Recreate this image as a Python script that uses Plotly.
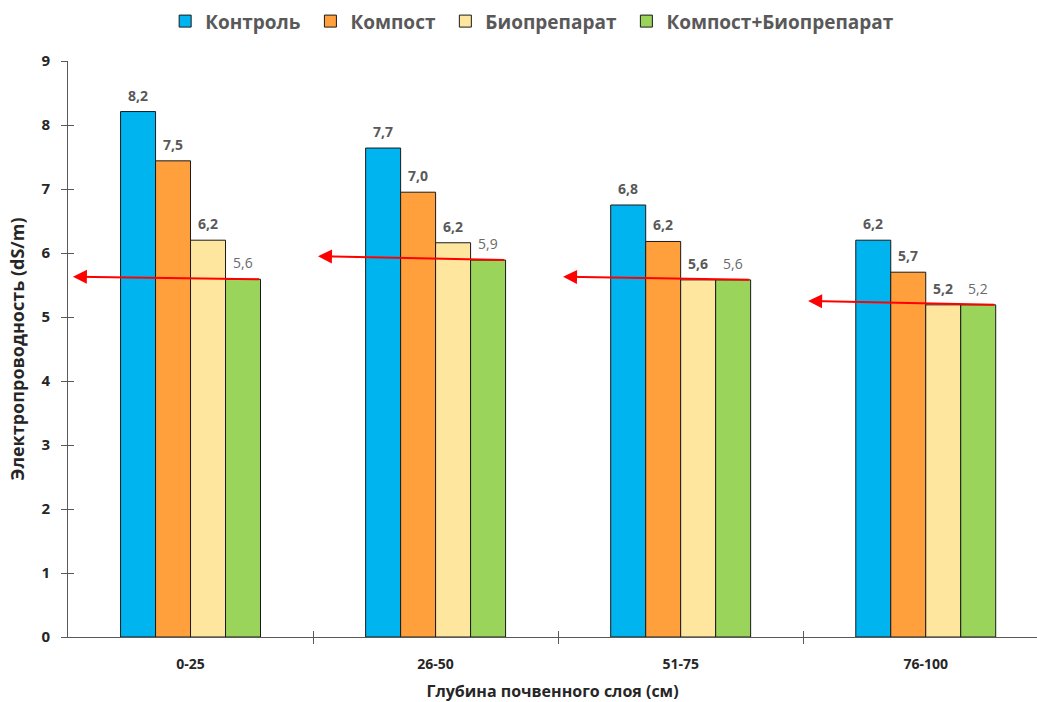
import plotly.graph_objects as go

categories = ["0-25", "26-50", "51-75", "76-100"]
series_names = ["Контроль", "Компост", "Биопрепарат", "Компост+Биопрепарат"]
kontrol = [8.21, 7.64, 6.75, 6.20]
kompost = [7.44, 6.95, 6.18, 5.70]
biopreparat = [6.20, 6.16, 5.58, 5.19]
kompost_bio = [5.59, 5.89, 5.58, 5.19]
kontrol_labels = ["8,2", "7,7", "6,8", "6,2"]
kompost_labels = ["7,5", "7,0", "6,2", "5,7"]
biopreparat_labels = ["6,2", "6,2", "5,6", "5,2"]
kompost_bio_labels = ["5,6", "5,9", "5,6", "5,2"]
arrow_head_y = [5.63, 5.95, 5.63, 5.25]
y_ticks = [0, 1, 2, 3, 4, 5, 6, 7, 8, 9]

colors = ["#00B5EF", "#FFA03C", "#FFE69E", "#9BD45B"]
series = [kontrol, kompost, biopreparat, kompost_bio]
labels = [kontrol_labels, kompost_labels, biopreparat_labels, kompost_bio_labels]

FONT = "Open Sans"
bargap = 0.429
n = len(series)
w = (1 - bargap) / n
xs = list(range(len(categories)))
PAD = "\u00a0"

fig = go.Figure()
for k, (name, vals, col) in enumerate(zip(series_names, series, colors)):
    fig.add_trace(go.Bar(
        x=xs, y=vals, name="<b>%s</b>%s" % (name, PAD if k < n - 1 else ""),
        marker=dict(color=col, line=dict(color="#1a1a1a", width=1)),
    ))

# dummy trace for crossing tick axes
fig.add_trace(go.Scatter(x=[0], y=[0], xaxis="x2", yaxis="y2", mode="markers",
                         marker=dict(opacity=0), showlegend=False, hoverinfo="skip"))

annotations = []
for j, (vals, labs) in enumerate(zip(series, labels)):
    for i, (v, t) in enumerate(zip(vals, labs)):
        green = (j == n - 1)
        annotations.append(dict(
            x=i + (j - (n - 1) / 2) * w, y=v, xref="x", yref="y",
            text=("<b>%s</b>" % t) if not green else t,
            showarrow=False, yanchor="bottom", yshift=5,
            font=dict(family=FONT, size=14,
                      color="#595959" if not green else "#6a6a6a"),
        ))

for i in xs:
    annotations.append(dict(
        x=i - 0.48, y=arrow_head_y[i], xref="x", yref="y",
        ax=i + 2 * w, ay=kompost_bio[i], axref="x", ayref="y",
        text="", showarrow=True, arrowhead=2, arrowsize=1.4,
        arrowwidth=2, arrowcolor="#FF0000",
    ))

x_range = [-0.5, 3.454]
fig.update_layout(
    width=1037, height=702,
    margin=dict(l=67.5, r=0, t=61, b=65, autoexpand=False),
    paper_bgcolor="white", plot_bgcolor="white",
    barmode="group", bargap=bargap, bargroupgap=0,
    font=dict(family=FONT, color="#262626"),
    legend=dict(orientation="h", x=0.479, xanchor="center", y=1.069,
                yanchor="middle", font=dict(family=FONT, size=19, color="#595959"),
                itemwidth=30, traceorder="normal"),
    xaxis=dict(range=x_range, tickvals=xs, ticktext=["<b>%s</b>" % c for c in categories],
               ticks="", showline=True, linecolor="#595959", linewidth=1,
               showgrid=False, zeroline=False, ticklabelstandoff=14,
               tickfont=dict(family=FONT, size=14, color="#262626"),
               minor=dict(tickvals=[0.5, 1.5, 2.5], ticks="outside", ticklen=6,
                          tickcolor="#595959", tickwidth=1, showgrid=False),
               title=dict(text="<b>Глубина почвенного слоя (см)</b>", standoff=14,
                          font=dict(family=FONT, size=16, color="#262626"))),
    yaxis=dict(range=[0, 9], tickvals=y_ticks, ticktext=["<b>%d</b>" % v for v in y_ticks],
               ticks="outside", ticklen=6, tickcolor="#595959",
               showline=True, linecolor="#595959", linewidth=1,
               showgrid=False, zeroline=False, ticklabelstandoff=8,
               tickfont=dict(family=FONT, size=15, color="#262626"),
               title=dict(text="<b>Электропроводность (dS/m)</b>", standoff=12,
                          font=dict(family=FONT, size=18, color="#262626"))),
    xaxis2=dict(overlaying="x", range=x_range, anchor="y2", tickvals=[0.5, 1.5, 2.5],
                ticks="inside", ticklen=6, tickcolor="#595959", showticklabels=False,
                showgrid=False, zeroline=False, showline=False),
    yaxis2=dict(overlaying="y", range=[0, 9], anchor="x2", tickvals=y_ticks,
                ticks="inside", ticklen=6, tickcolor="#595959", showticklabels=False,
                showgrid=False, zeroline=False, showline=False),
    annotations=annotations,
)

fig.write_html("out.html")
